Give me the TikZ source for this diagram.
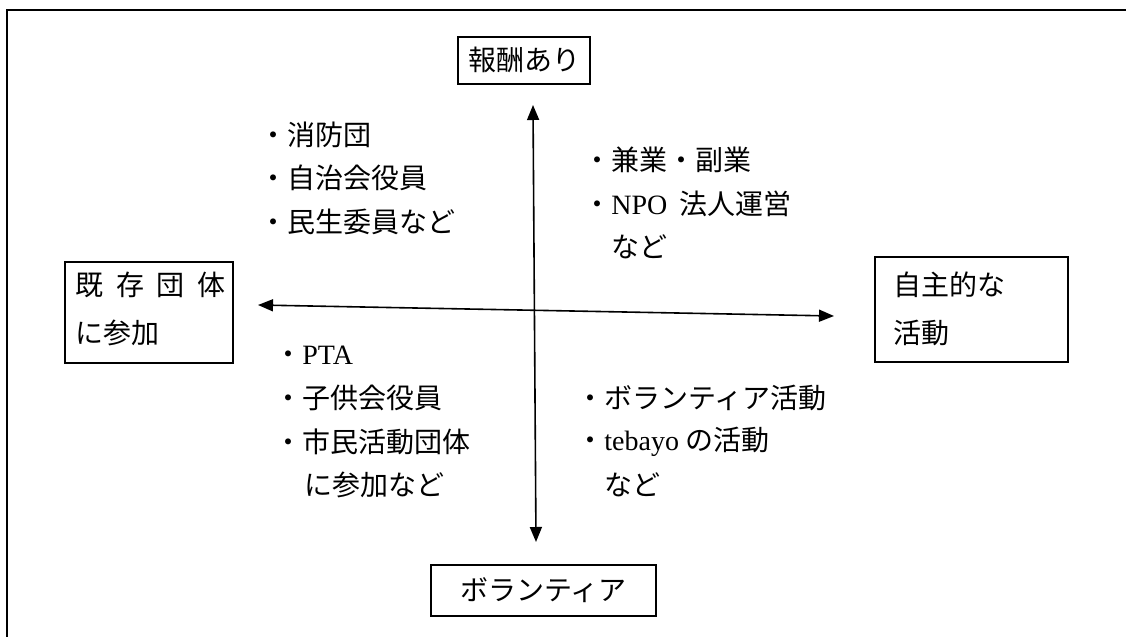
\documentclass[tikz,border=0pt]{standalone}
\usepackage{fontspec}
\setmainfont{Noto Sans CJK JP}
\newfontfamily\lat{Liberation Serif}
\usetikzlibrary{arrows.meta}
\begin{document}
\begin{tikzpicture}[x=0.5pt,y=-0.5pt,
  boxline/.style={draw, line width=1pt, inner sep=0pt},
  lbl/.style={anchor=west, inner sep=0pt, font=\fontsize{14}{18}\selectfont},
  axis/.style={line width=0.8pt, {Triangle[length=7.5pt,width=6pt]}-{Triangle[length=7.5pt,width=6pt]}}]
\useasboundingbox (0,0) rectangle (1126,637);
% outer frame (cut off at right and bottom)
\draw[line width=1.1pt] (1130,10) -- (7,10) -- (7,640);
% boxes
\node[boxline, minimum width=66pt, minimum height=23.5pt, font=\fontsize{14}{18}\selectfont] (topb) at (524,60) {報酬あり};
\node[boxline, minimum width=112.5pt, minimum height=25.5pt, font=\fontsize{14}{18}\selectfont] (botb) at (543.5,590.5) {ボランティア};
\node[boxline, minimum width=84pt, minimum height=50.5pt] (leftb) at (149,312.5) {};
\node[boxline, minimum width=96.5pt, minimum height=52.5pt] (rightb) at (971.5,309.5) {};
\node[lbl] (l1) at (75,285) {\makebox[75pt][s]{既\hfill 存\hfill 団\hfill 体}};
\node[lbl] (l2) at (75,333) {に参加};
\node[lbl] (r1) at (893,285) {自主的な};
\node[lbl] (r2) at (893,333) {活動};
% axes
\coordinate (vt) at (533,105);
\coordinate (vb) at (536,542);
\coordinate (hl) at (258,305);
\coordinate (hr) at (834,316);
\draw[axis] (vt) -- (vb);
\draw[axis] (hl) -- (hr);
% upper left
\node[lbl] (ul1) at (259,135) {・消防団};
\node[lbl] (ul2) at (259,178) {・自治会役員};
\node[lbl] (ul3) at (259,222) {・民生委員など};
% upper right
\node[lbl] (ur1) at (583,160) {・兼業・副業};
\node[lbl] (ur2) at (583,204) {・{\lat NPO}\hspace{6pt}法人運営};
\node[lbl] (ur3) at (611,247) {など};
% lower left
\node[lbl] (ll1) at (274,355) {・{\lat PTA}};
\node[lbl] (ll2) at (274,398) {・子供会役員};
\node[lbl] (ll3) at (274,442) {・市民活動団体};
\node[lbl] (ll4) at (304,485) {に参加など};
% lower right
\node[lbl] (lr1) at (576,398) {・ボランティア活動};
\node[lbl] (lr2) at (576,442) {・{\lat tebayo}\hspace{3pt}の活動};
\node[lbl] (lr3) at (604,485) {など};
\end{tikzpicture}
\end{document}
